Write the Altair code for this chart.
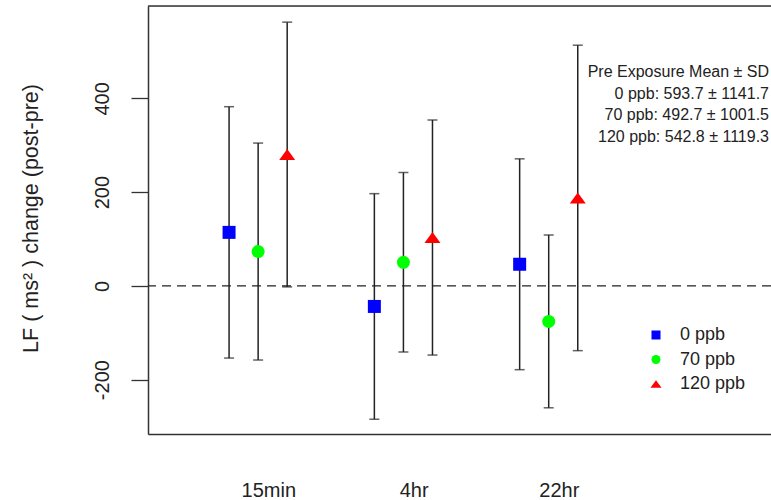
import altair as alt
import pandas as pd

# ---- data ----
times = ["15min", "4hr", "22hr"]
groups = ["0 ppb", "70 ppb", "120 ppb"]
mean_0 = [114.1, -43.9, 46.1]
mean_70 = [73.2, 50.3, -75.8]
mean_120 = [280.2, 103.1, 187.6]
err_0 = [268.1, 240.6, 224.9]
err_70 = [231.4, 191.4, 184.3]
err_120 = [282.4, 250.7, 325.8]
pre_mean = [593.7, 492.7, 542.8]
pre_sd = [1141.7, 1001.5, 1119.3]
y_ticks = [-200, 0, 200, 400]
colors = ["#0000FF", "#00FF00", "#FF0000"]
TRI = "M0,-0.85L1.23,0.85L-1.23,0.85Z"
shapes = ["square", "circle", TRI]

means = [mean_0, mean_70, mean_120]
errs = [err_0, err_70, err_120]
rows = []
for si, g in enumerate(groups):
    for ti, t in enumerate(times):
        m = means[si][ti]
        e = errs[si][ti]
        rows.append(dict(time=t, group=g, pos=ti * 5 + si, mean=m, lo=m - e, hi=m + e))
df = pd.DataFrame(rows)

ann_lines = ["Pre Exposure Mean \u00b1 SD"] + [
    f"{g}: {m} \u00b1 {s}" for g, m, s in zip(groups, pre_mean, pre_sd)
]

INK = "#222222"
FRAME = "#333333"

xscale = alt.Scale(domain=[-2.79, 18.65], nice=False, zero=False)
yscale = alt.Scale(domain=[-316, 597], nice=False, zero=False)

label_pos = [i * 5 + 1.35 for i in range(len(times))]
label_expr = "[" + ",".join(f"'{t}'" for t in times) + "][floor(datum.value / 5)]"

x_bottom = alt.Axis(orient="bottom", values=label_pos, labelExpr=label_expr,
                    ticks=False, tickSize=0, labelPadding=62, labelBaseline="alphabetic",
                    labelFontSize=20, labelColor=INK, domain=True, domainColor=FRAME,
                    domainWidth=1.5, grid=False, title=None, labelFlush=False)
y_axis = alt.Axis(values=y_ticks, orient="left", tickSize=17, tickColor=FRAME, tickWidth=1.3,
                  labelExpr="toString(datum.value)",
                  labelAngle=270, labelAlign="center", labelBaseline="alphabetic",
                  labelPadding=22.5, labelFontSize=20, labelColor=INK, grid=False,
                  domain=True, domainColor=FRAME, domainWidth=1.5,
                  title="LF ( ms\u00b2 ) change (post-pre)", titleAngle=270,
                  titleAlign="center", titleBaseline="alphabetic", titleX=-110.5,
                  titleY=212, titleFontSize=21.5, titleFontWeight="normal", titleColor=INK,
                  labelFlush=False, labelOverlap=False)

base = alt.Chart(df)

# top border of the plot frame
top_border = alt.Chart(pd.DataFrame({"a": [0]})).mark_rule(
    color=FRAME, strokeWidth=1.5
).encode(x=alt.value(0), x2=alt.value("width"), y=alt.value(0))

zero_line = alt.Chart(pd.DataFrame({"z": [0]})).mark_rule(
    strokeDash=[9, 6], color=INK, strokeWidth=1.3
).encode(y=alt.Y("z:Q", scale=yscale, axis=y_axis))

bars = base.mark_rule(color=INK, strokeWidth=1.5).encode(
    x=alt.X("pos:Q", scale=xscale, axis=x_bottom),
    y=alt.Y("lo:Q", scale=yscale, axis=y_axis),
    y2="hi:Q",
)

caps = base.transform_fold(["lo", "hi"]).mark_tick(
    orient="horizontal", size=10, thickness=1.5, color=INK
).encode(
    x=alt.X("pos:Q", scale=xscale, axis=x_bottom),
    y=alt.Y("value:Q", scale=yscale, axis=y_axis),
)

leg = alt.Legend(orient="none", legendX=499, legendY=320, title=None, symbolSize=81,
                 labelFontSize=18, labelOffset=15, rowPadding=6.5, padding=0,
                 labelColor=INK, symbolStrokeWidth=0)

points = base.mark_point(filled=True, size=169, opacity=1).encode(
    x=alt.X("pos:Q", scale=xscale, axis=x_bottom),
    y=alt.Y("mean:Q", scale=yscale, axis=y_axis),
    color=alt.Color("group:N", scale=alt.Scale(domain=groups, range=colors), legend=leg),
    shape=alt.Shape("group:N", scale=alt.Scale(domain=groups, range=shapes), legend=leg),
)

annot = alt.Chart(pd.DataFrame({"a": [0]})).mark_text(
    align="right", baseline="middle", fontSize=16, lineHeight=21.5, color=INK
).encode(x=alt.value(621), y=alt.value(66), text=alt.value(ann_lines))

chart = alt.layer(top_border, zero_line, bars, caps, points, annot).properties(
    width=623, height=428,
    padding={"left": 148, "top": 6, "right": 0, "bottom": 66},
    autosize=alt.AutoSizeParams(type="none"),
).configure_view(stroke=None).configure(font="Liberation Sans")

chart.save("out.html", embed_options={"renderer": "svg", "actions": False})
